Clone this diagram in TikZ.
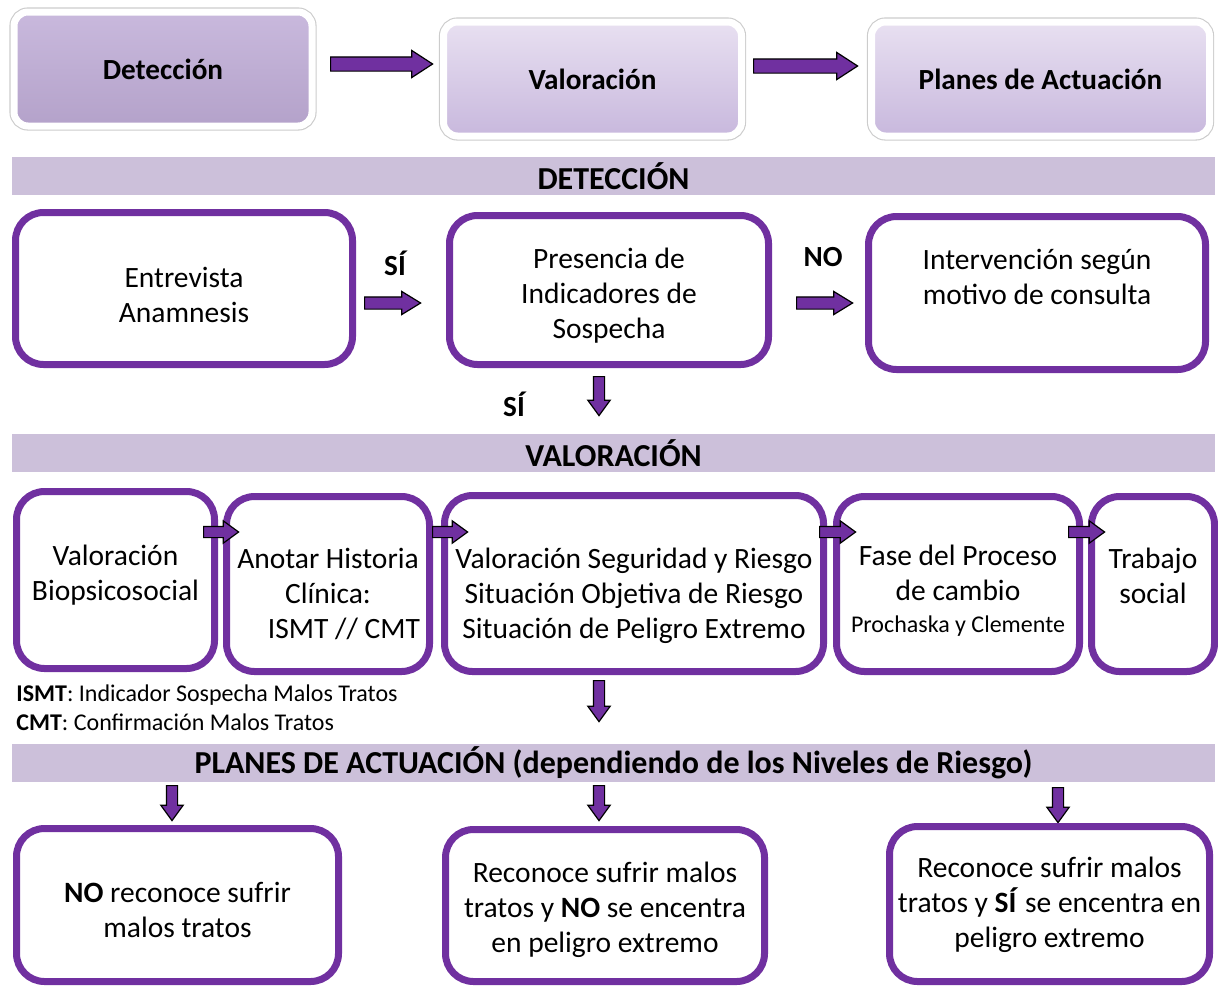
\documentclass[tikz,border=0pt]{standalone}
\usepackage{fontspec}
\setmainfont{Carlito}
\usetikzlibrary{shapes.arrows,shadows}

\definecolor{pborder}{HTML}{7030A0}
\definecolor{hdrfill}{HTML}{CCC0DA}
\definecolor{stgtop}{HTML}{E8E0F1}
\definecolor{stgbot}{HTML}{C8B8DD}
\definecolor{dettop}{HTML}{C9B9DD}
\definecolor{detbot}{HTML}{B4A2CA}

\tikzset{
  stagebox/.style={rounded corners=7pt, draw=white, line width=3.5pt,
    top color=stgtop, bottom color=stgbot, minimum height=57pt,
    font=\fontsize{14.6}{17}\selectfont\bfseries,
    preaction={draw=black!20, line width=4.6pt},
    drop shadow={opacity=0.25, shadow xshift=1pt, shadow yshift=-1.5pt}},
  stgdark/.style={top color=dettop, bottom color=detbot},
  pbox/.style={draw=pborder, line width=3.5pt, rounded corners=14pt,
    fill=white, align=center, inner sep=0pt},
  hdr/.style={fill=hdrfill, minimum width=601.5pt, minimum height=19pt,
    inner sep=0pt, font=\fontsize{16}{18}\selectfont\bfseries},
  lbl/.style={font=\fontsize{14.6}{17}\selectfont\bfseries},
  barrow/.style={single arrow, anchor=tail, draw=black, fill=pborder, line width=0.6pt,
    inner xsep=0pt, inner ysep=2.5pt, text height=0pt, text depth=0pt,
    single arrow head extend=2.75pt, single arrow tip angle=72},
  midarrow/.style={inner ysep=2.75pt, single arrow head extend=2.75pt,
    single arrow tip angle=63},
  bigarrow/.style={inner ysep=3.25pt, single arrow head extend=3.25pt,
    single arrow tip angle=66}
}

\begin{document}
\begin{tikzpicture}[x=0.5pt, y=-0.5pt,
    every node/.append style={font=\fontsize{14.75}{17.5}\selectfont}]
  \useasboundingbox (0,0) rectangle (1218,985);

  % --- stages ---
  \node[stagebox, stgdark, minimum width=149pt] (sdet) at (163,69) {Detección};
  \node[stagebox, minimum width=149pt] (sval) at (592.5,79) {Valoración};
  \node[stagebox, minimum width=169pt] (spla) at (1040.5,79) {Planes de Actuación};
  \node[barrow, bigarrow, minimum height=51pt] (a1) at (330,64) {};
  \node[barrow, bigarrow, minimum height=52pt] (a2) at (753,66) {};

  % --- DETECCION ---
  \node[hdr] (hdet) at (613.5,176) {DETECCIÓN};
  \node[pbox, minimum width=168.5pt, minimum height=76pt, text height=33.5pt, text depth=0pt]
    (entrev) at (184,288.5) {Entrevista\\Anamnesis};
  \node[pbox, minimum width=159.5pt, minimum height=74.5pt, text height=48.5pt, text depth=0pt]
    (presen) at (609,290) {Presencia de\\Indicadores de\\Sospecha};
  \node[pbox, minimum width=168.5pt, minimum height=76.5pt, text depth=16pt]
    (interv) at (1037,293) {Intervención según\\motivo de consulta};
  \node[lbl] (si1) at (395,263) {SÍ};
  \node[barrow, midarrow, minimum height=28pt] (a3) at (364,303) {};
  \node[lbl] (no1) at (823,257) {NO};
  \node[barrow, midarrow, minimum height=28pt] (a4) at (796,303) {};
  \node[barrow, rotate=-90, minimum height=19.5pt] (a5) at (599,376) {};
  \node[lbl] (si2) at (514,404) {SÍ};

  % --- VALORACION ---
  \node[hdr] (hval) at (613.5,453) {VALORACIÓN};
  \node[pbox, minimum width=99pt, minimum height=88.5pt, text depth=7pt]
    (biop) at (115.5,580) {Valoración\\Biopsicosocial};
  \node[pbox, minimum width=101.5pt, minimum height=87.5pt, text height=54pt, text depth=0pt]
    (anot) at (328,584) {Anotar Historia\\Clínica:\\\hspace*{16pt}ISMT // CMT};
  \node[pbox, minimum width=189.5pt, minimum height=88pt, text height=55pt, text depth=0pt]
    (segur) at (634,583.5) {Valoración Seguridad y Riesgo\\Situación Objetiva de Riesgo\\Situación de Peligro Extremo};
  \node[pbox, minimum width=121.5pt, minimum height=87.5pt, text height=48.5pt, text depth=0pt]
    (fase) at (958,584) {Fase del Proceso\\de cambio\\[-1.5pt]{\fontsize{12}{14}\selectfont Prochaska y Clemente}};
  \node[pbox, minimum width=61.5pt, minimum height=87.5pt, text depth=8pt]
    (trab) at (1153,584) {Trabajo\\social};
  \node[barrow, minimum height=17.5pt] (a6) at (203,532) {};
  \node[barrow, minimum height=17.5pt] (a7) at (432,532) {};
  \node[barrow, minimum height=18pt] (a8) at (819,532) {};
  \node[barrow, minimum height=18pt] (a9) at (1068,532) {};
  \node[anchor=west, align=left, inner sep=0pt, font=\fontsize{12}{14.5}\selectfont]
    (leg) at (16,707.5) {\textbf{ISMT}: Indicador Sospecha Malos Tratos\\\textbf{CMT}: Confirmación Malos Tratos};
  \node[barrow, rotate=-90, minimum height=20.5pt] (a10) at (599,680) {};

  % --- PLANES ---
  \node[hdr] (hpla) at (613.5,762.5) {PLANES DE ACTUACIÓN (dependiendo de los Niveles de Riesgo)};
  \node[barrow, rotate=-90, minimum height=17.5pt] (a11) at (172,785) {};
  \node[barrow, rotate=-90, minimum height=17.5pt] (a12) at (599,785) {};
  \node[barrow, rotate=-90, minimum height=17.5pt] (a13) at (1058,787) {};
  \node[pbox, minimum width=161pt, minimum height=76.5pt, text height=32.5pt, text depth=0pt]
    (nore) at (177.5,905) {\textbf{NO} reconoce sufrir\\malos tratos};
  \node[pbox, minimum width=159.5pt, minimum height=76pt, text height=47pt, text depth=0pt]
    (reno) at (605,905.5) {Reconoce sufrir malos\\tratos y \textbf{NO} se encentra\\en peligro extremo};
  \node[pbox, minimum width=160pt, minimum height=77.5pt, text height=43pt, text depth=0pt]
    (resi) at (1049.5,904) {Reconoce sufrir malos\\tratos y \textbf{SÍ} se encentra en\\peligro extremo};
\end{tikzpicture}
\end{document}
